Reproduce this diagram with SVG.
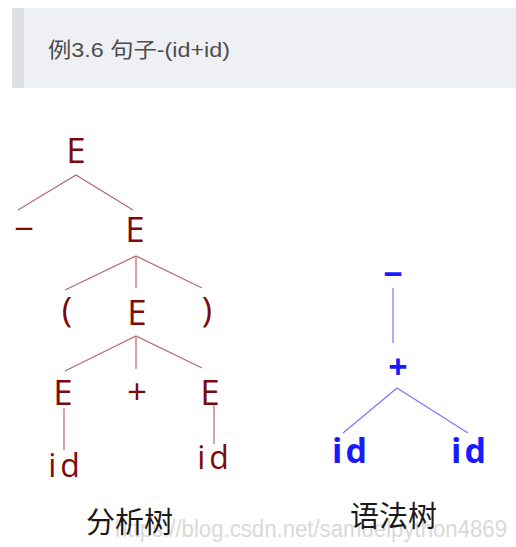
<svg xmlns="http://www.w3.org/2000/svg" width="516" height="547" viewBox="0 0 516 547">
<style>
.pt{font-family:"Open Sans","Noto Sans",sans-serif;font-size:35px;fill:#7d0a0a;text-anchor:middle}
.pid{font-family:"Open Sans","Noto Sans",sans-serif;font-size:32px;fill:#7d0a0a;text-anchor:middle;letter-spacing:4px}
.st{font-family:"Open Sans","Noto Sans",sans-serif;font-size:34px;font-weight:bold;fill:#1a1aff;text-anchor:middle}
.cap{font-family:"Noto Sans CJK SC","Noto Sans",sans-serif;font-size:29px;fill:#1a1a1a}
.rl{stroke:#b46a6a;stroke-width:1.2;fill:none}
.bl{stroke:#7575ff;stroke-width:1.2;fill:none}
</style>
<rect x="0" y="0" width="516" height="547" fill="#ffffff"/>
<g id="quote">
<rect x="12" y="8" width="504" height="80" fill="#eef0f4"/>
<rect x="12" y="8" width="12" height="80" fill="#dfe0e6"/>
<text x="48" y="57" font-family="Liberation Sans,Noto Sans CJK SC,sans-serif" font-size="21" fill="#4d4d4d" textLength="182" lengthAdjust="spacingAndGlyphs">例3.6 句子-(id+id)</text>
</g>
<text id="watermark" x="115" y="537" font-family="Liberation Sans,sans-serif" font-size="23" fill="#d9d9d9" textLength="392" lengthAdjust="spacingAndGlyphs">https://blog.csdn.net/samuelpython4869</text>
<g id="connectors">
<polyline class="rl" points="18,210 76,175 133,210"/>
<polyline class="rl" points="65,290 136,256 202,288"/>
<line class="rl" x1="136" y1="256" x2="136" y2="288"/>
<polyline class="rl" points="65,371 136,336 202,368"/>
<line class="rl" x1="136" y1="336" x2="136" y2="369"/>
<line class="rl" x1="64" y1="408" x2="64" y2="450"/>
<line class="rl" x1="214" y1="403" x2="214" y2="444"/>
<line class="bl" x1="393" y1="288" x2="393" y2="343"/>
<polyline class="bl" points="343,433 397,388 468,433"/>
</g>
<g id="parse-tree">
<g id="p-E1"><text class="pt" x="76" y="163">E</text></g>
<g id="p-minus"><text class="pt" x="24" y="241">−</text></g>
<g id="p-E2"><text class="pt" x="135" y="242">E</text></g>
<g id="p-lparen"><text class="pt" x="67" y="322">(</text></g>
<g id="p-E3"><text class="pt" x="137" y="325">E</text></g>
<g id="p-rparen"><text class="pt" x="207" y="322">)</text></g>
<g id="p-E4"><text class="pt" x="63" y="405">E</text></g>
<g id="p-plus"><text class="pt" x="137" y="404">+</text></g>
<g id="p-E5"><text class="pt" x="210" y="405">E</text></g>
<g id="p-id1"><text class="pid" x="66" y="477">id</text></g>
<g id="p-id2"><text class="pid" x="215" y="469">id</text></g>
<g id="p-caption"><text class="cap" x="86" y="533">分析树</text></g>
</g>
<g id="syntax-tree">
<g id="s-minus"><text class="st" x="393" y="286">−</text></g>
<g id="s-plus"><text class="st" x="398" y="379">+</text></g>
<g id="s-id1"><text class="st" x="351" y="463" letter-spacing="3">id</text></g>
<g id="s-id2"><text class="st" x="470" y="463" letter-spacing="3">id</text></g>
<g id="s-caption"><text class="cap" x="350" y="527">语法树</text></g>
</g>
</svg>
